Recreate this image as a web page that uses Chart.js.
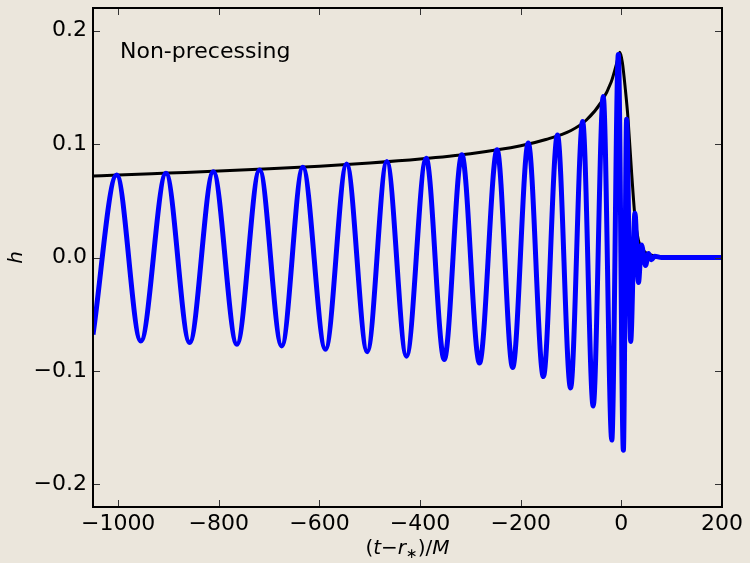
<!DOCTYPE html>
<html>
<head>
<meta charset="utf-8">
<script src="https://cdn.jsdelivr.net/npm/chart.js@4/dist/chart.umd.min.js"></script>
<style>
  html, body { margin: 0; padding: 0; background: #ebe6dc; }
</style>
</head>
<body>
<canvas id="chart" width="750" height="563"></canvas>
<script>
// waveform extrema (time in M, strain h)
const waveTimes = [-1050, -1003, -955, -905, -858, -811, -764, -719, -675, -633, -588, -546, -505, -466, -427,
    -388, -352, -317, -282, -247, -216, -185, -155, -127, -101, -77, -56, -36, -19, -6, 4, 10.5, 18.5, 27, 34,
    40, 48, 54, 60, 66, 80, 200];
const waveValues = [-0.068, 0.0728, -0.0737, 0.0743, -0.075, 0.0757, -0.0766, 0.0772, -0.078, 0.0795, -0.081,
    0.0825, -0.083, 0.0846, -0.087, 0.0876, -0.0899, 0.0905, -0.093, 0.095, -0.097, 0.101, -0.105, 0.108, -0.115,
    0.120, -0.131, 0.142, -0.161, 0.179, -0.170, 0.122, -0.074, 0.039, -0.022, 0.011, -0.007, 0.0035, -0.002,
    0.001, 0, 0];

// amplitude envelope
const envTimes = [-1050, -1000, -900, -800, -700, -600, -500, -400, -300, -200, -150, -100, -70, -40, -20, -10,
    -3, 2, 8, 13, 20.5, 27, 34, 44, 60, 80, 200];
const envValues = [0.0718, 0.0728, 0.0745, 0.0762, 0.0782, 0.0805, 0.0833, 0.0868, 0.0915, 0.0985, 0.104, 0.112,
    0.121, 0.137, 0.155, 0.170, 0.181, 0.172, 0.148, 0.124, 0.074, 0.036, 0.015, 0.006, 0.002, 0.0005, 0];

const xTicks = [-1000, -800, -600, -400, -200, 0, 200];
const yTicks = [-0.2, -0.1, 0, 0.1, 0.2];
const yTickLabels = ['\u22120.2', '\u22120.1', '0.0', '0.1', '0.2'];
const panelLabel = 'Non-precessing';

const BG = '#ebe6dc';
const FONT = "'DejaVu Sans', sans-serif";

const toPoints = (xs, ys) => xs.map((x, i) => ({ x: x, y: ys[i] }));

// background, frame, inward ticks and labels (matplotlib look)
const framePlugin = {
    id: 'frame',
    beforeDraw(chart) {
        const ctx = chart.ctx;
        ctx.save();
        ctx.fillStyle = BG;
        ctx.fillRect(0, 0, chart.width, chart.height);
        ctx.restore();
    },
    afterDatasetsDraw(chart) {
        const { ctx, chartArea: a, scales } = chart;
        const len = 7;
        ctx.save();
        ctx.strokeStyle = '#333';
        ctx.lineWidth = 1;
        ctx.beginPath();
        xTicks.forEach(v => {
            const px = Math.round(scales.x.getPixelForValue(v)) + 0.5;
            ctx.moveTo(px, a.bottom); ctx.lineTo(px, a.bottom - len);
            ctx.moveTo(px, a.top); ctx.lineTo(px, a.top + len);
        });
        yTicks.forEach(v => {
            const py = Math.round(scales.y.getPixelForValue(v)) + 0.5;
            ctx.moveTo(a.left, py); ctx.lineTo(a.left + len, py);
            ctx.moveTo(a.right, py); ctx.lineTo(a.right - len, py);
        });
        ctx.stroke();

        ctx.strokeStyle = '#000';
        ctx.lineWidth = 2;
        ctx.strokeRect(a.left, a.top, a.right - a.left, a.bottom - a.top);

        // panel label
        ctx.fillStyle = '#000';
        ctx.font = '22px ' + FONT;
        ctx.textAlign = 'left';
        ctx.textBaseline = 'middle';
        ctx.fillText(panelLabel, a.left + 27, a.top + 44);

        // y axis label
        ctx.save();
        ctx.translate(17, (a.top + a.bottom) / 2);
        ctx.rotate(-Math.PI / 2);
        ctx.font = 'italic 20px ' + FONT;
        ctx.textAlign = 'center';
        ctx.fillText('h', 0, 0);
        ctx.restore();

        // x axis label: (t−r∗)/M
        const parts = [
            { t: '(', f: '20px ' + FONT, dy: 0 },
            { t: 't', f: 'italic 20px ' + FONT, dy: 0 },
            { t: '\u2212', f: '20px ' + FONT, dy: 0 },
            { t: 'r', f: 'italic 20px ' + FONT, dy: 0 },
            { t: '\u2217', f: '14px ' + FONT, dy: 5 },
            { t: ')/', f: '20px ' + FONT, dy: 0 },
            { t: 'M', f: 'italic 20px ' + FONT, dy: 0 }
        ];
        let total = 0;
        parts.forEach(p => { ctx.font = p.f; p.w = ctx.measureText(p.t).width; total += p.w; });
        let x = (a.left + a.right) / 2 - total / 2;
        ctx.textAlign = 'left';
        ctx.textBaseline = 'middle';
        parts.forEach(p => {
            ctx.font = p.f;
            ctx.fillText(p.t, x, 549 + p.dy);
            x += p.w;
        });
        ctx.restore();
    }
};

const ctx = document.getElementById('chart').getContext('2d');
new Chart(ctx, {
    type: 'line',
    data: {
        datasets: [{
            label: 'h',
            data: toPoints(waveTimes, waveValues),
            borderColor: '#0000ff',
            borderWidth: 5,
            pointRadius: 0,
            fill: false,
            cubicInterpolationMode: 'monotone'
        }, {
            label: 'envelope',
            data: toPoints(envTimes, envValues),
            borderColor: '#000000',
            borderWidth: 3,
            pointRadius: 0,
            fill: false,
            cubicInterpolationMode: 'monotone'
        }]
    },
    options: {
        responsive: false,
        animation: false,
        devicePixelRatio: 1,
        layout: { padding: { left: 0, top: 8, right: 28, bottom: 0 } },
        plugins: {
            legend: { display: false },
            tooltip: { enabled: false }
        },
        scales: {
            x: {
                type: 'linear',
                min: -1050,
                max: 200,
                grid: { display: false, drawTicks: false },
                border: { display: false },
                afterBuildTicks: s => { s.ticks = xTicks.map(v => ({ value: v })); },
                afterFit: s => { s.height = 56; s.paddingLeft = 0; s.paddingRight = 0; },
                ticks: {
                    padding: 4,
                    color: '#000',
                    font: { family: FONT, size: 22 },
                    maxRotation: 0,
                    callback: v => (v < 0 ? '\u2212' + Math.abs(v) : String(v))
                }
            },
            y: {
                type: 'linear',
                min: -0.22,
                max: 0.22,
                grid: { display: false, drawTicks: false },
                border: { display: false },
                afterBuildTicks: s => { s.ticks = yTicks.map(v => ({ value: v })); },
                afterFit: s => { s.width = 93; s.paddingTop = 0; s.paddingBottom = 0; },
                ticks: {
                    padding: 6,
                    color: '#000',
                    font: { family: FONT, size: 22 },
                    callback: (v, i) => yTickLabels[i]
                }
            }
        }
    },
    plugins: [framePlugin]
});
</script>
</body>
</html>
